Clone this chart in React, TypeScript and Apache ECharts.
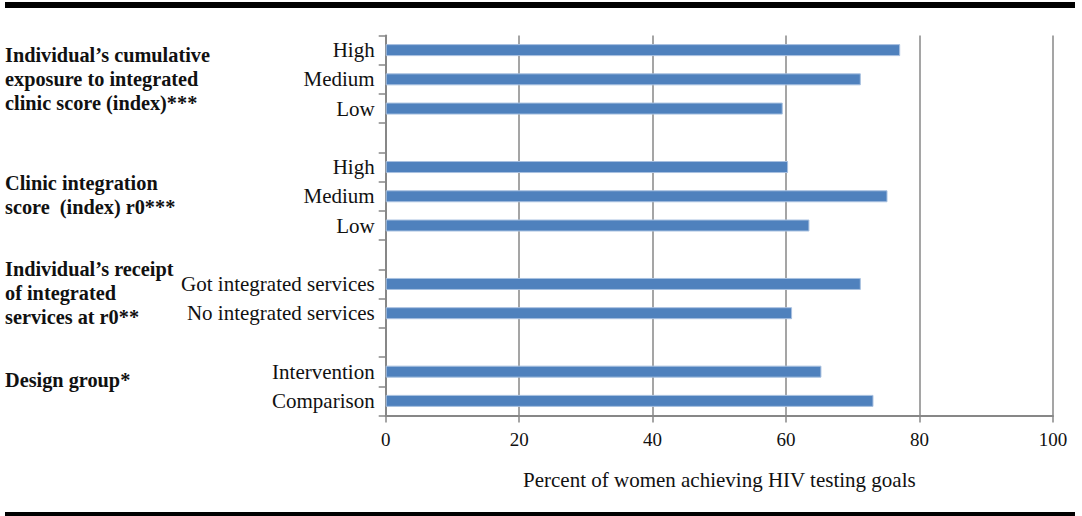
import React, { useEffect, useRef } from "react";
import * as echarts from "echarts";

// ---- data (top to bottom) ----
const exposureLabels = ["High", "Medium", "Low"];
const exposureValues = [77.1, 71.2, 59.5];
const clinicLabels = ["High", "Medium", "Low"];
const clinicValues = [60.3, 75.2, 63.5];
const receiptLabels = ["Got integrated services", "No integrated services"];
const receiptValues = [71.2, 60.9];
const designLabels = ["Intervention", "Comparison"];
const designValues = [65.3, 73.1];

const groupTitles = [
  ["Individual\u2019s cumulative", "exposure to integrated", "clinic score (index)***"],
  ["Clinic integration", "score  (index) r0***"],
  ["Individual\u2019s receipt", "of integrated", "services at r0**"],
  ["Design group*"],
];

const xTicks = [0, 20, 40, 60, 80, 100];
const xTitle = "Percent of women achieving HIV testing goals";

const SERIF = '"Liberation Serif", "DejaVu Serif", serif';

export default function App() {
  const ref = useRef<HTMLDivElement>(null);

  useEffect(() => {
    if (!ref.current) return;
    const chart = echarts.init(ref.current, null, { renderer: "svg" });

    const categories: string[] = [
      ...exposureLabels, "",
      ...clinicLabels, "",
      ...receiptLabels, "",
      ...designLabels,
    ];
    const values: (number | null)[] = [
      ...exposureValues, null,
      ...clinicValues, null,
      ...receiptValues, null,
      ...designValues,
    ];

    const gridTop = 35.5;
    const gridBottom = 100.5;
    const band = (516 - gridTop - gridBottom) / categories.length;
    const groupStartIdx = [0, 4, 8, 11];
    const titleOffsets = [5, 16, -15, 8];

    const graphics: any[] = [
      { type: "rect", shape: { x: 5, y: 2, width: 1070, height: 6 }, style: { fill: "#000" } },
      { type: "rect", shape: { x: 5, y: 512, width: 1070, height: 5 }, style: { fill: "#000" } },
    ];
    groupTitles.forEach((lines, gi) => {
      const rowCenter = gridTop + band * (groupStartIdx[gi] + 0.5);
      graphics.push({
        type: "text",
        x: 5,
        y: rowCenter + titleOffsets[gi] - 12,
        style: {
          text: lines.join("\n"),
          font: `bold 20.3px ${SERIF}`,
          fill: "#111",
          lineHeight: 24,
          verticalAlign: "top",
          align: "left",
        },
      });
    });

    chart.setOption({
      animation: false,
      grid: { left: 385.7, right: 29, top: gridTop, bottom: gridBottom, containLabel: false },
      xAxis: {
        type: "value",
        min: 0,
        max: 100,
        interval: 20,
        name: xTitle,
        nameLocation: "middle",
        nameGap: 54,
        nameTextStyle: { fontFamily: SERIF, fontSize: 21, color: "#111" },
        axisLine: { show: true, lineStyle: { color: "#878787", width: 2 } },
        axisTick: { show: true, length: 7, lineStyle: { color: "#878787", width: 1.5 } },
        axisLabel: {
          fontFamily: SERIF,
          fontSize: 19,
          color: "#111",
          margin: 14,
          formatter: (v: number) => (xTicks.includes(v) ? String(v) : ""),
        },
        splitLine: { show: true, lineStyle: { color: "#878787", width: 1.5 } },
      },
      yAxis: {
        type: "category",
        inverse: true,
        data: categories,
        axisLine: { show: true, lineStyle: { color: "#878787", width: 2 } },
        axisTick: { show: true, length: 7, lineStyle: { color: "#878787", width: 1.5 } },
        axisLabel: { fontFamily: SERIF, fontSize: 21, color: "#111", margin: 11, interval: 0 },
        splitLine: { show: false },
      },
      series: [
        {
          type: "bar",
          data: values,
          barWidth: 12,
          itemStyle: { color: "#4F81BD", borderColor: "#A9C1E0", borderWidth: 1 },
        },
      ],
      graphic: graphics,
    });

    return () => chart.dispose();
  }, []);

  return (
    <div
      ref={ref}
      style={{ position: "fixed", left: 0, top: 0, width: 1082, height: 516, background: "#fff" }}
    />
  );
}
